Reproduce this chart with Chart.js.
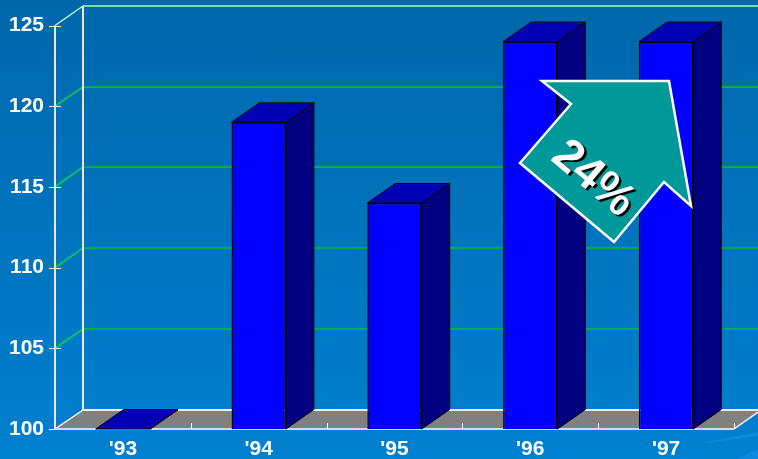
<!DOCTYPE html>
<html>
<head>
<meta charset="utf-8">
<title>Index</title>
<script src="https://cdn.jsdelivr.net/npm/chart.js@4/dist/chart.umd.min.js"></script>
<style>
    html, body { margin: 0; padding: 0; overflow: hidden; }
    body { width: 758px; height: 459px; background: linear-gradient(#0067ab, #0080d0); }
    #chart { display: block; }
</style>
</head>
<body>
<canvas id="chart" width="758" height="459"></canvas>
<script>
var years = ["'93", "'94", "'95", "'96", "'97"];
var values = [100, 119, 114, 124, 124];
var yTicks = [100, 105, 110, 115, 120, 125];
var growthLabel = '24%';

// how far the back wall sits from the front of the box
var depthX = 28;
var depthY = -19.5;

function line(ctx, x1, y1, x2, y2, color, width) {
    ctx.strokeStyle = color;
    ctx.lineWidth = width;
    ctx.beginPath();
    ctx.moveTo(x1, y1);
    ctx.lineTo(x2, y2);
    ctx.stroke();
}

function poly(ctx, pts, fill, stroke, width) {
    ctx.beginPath();
    ctx.moveTo(pts[0][0], pts[0][1]);
    for (var i = 1; i < pts.length; i++) {
        ctx.lineTo(pts[i][0], pts[i][1]);
    }
    ctx.closePath();
    ctx.fillStyle = fill;
    ctx.fill();
    if (width > 0) {
        ctx.strokeStyle = stroke;
        ctx.lineWidth = width;
        ctx.lineJoin = 'miter';
        ctx.stroke();
    }
}

// floor, back wall, gridlines and the side and top faces of the bars
var boxPlugin = {
    id: 'box',
    beforeDraw: function (chart) {
        // faint light streaks in the bottom corner of the slide
        var ctx = chart.ctx;
        poly(ctx, [[703, 443], [730, 437], [758, 432], [758, 436], [730, 440]], '#0c8ade', '', 0);
        poly(ctx, [[738, 459], [748, 453], [758, 449], [758, 459]], '#0c8ade', '', 0);
    },
    beforeDatasetsDraw: function (chart) {
        var ctx = chart.ctx;
        var a = chart.chartArea;
        var ys = chart.scales.y;
        var floorBack = Math.round(a.bottom + depthY);
        ctx.save();

        poly(ctx, [[a.left, a.bottom], [a.left + depthX, floorBack],
            [758, floorBack], [758, a.bottom - 17], [a.right, a.bottom]], '#808080', '', 0);

        yTicks.forEach(function (v) {
            var y = ys.getPixelForValue(v);
            var wallY = Math.round(y + depthY);
            var top = v === 125;
            if (v !== 100) {
                line(ctx, a.left + depthX, wallY, 758, wallY, top ? '#7fdcae' : '#00b04c', 2);
                line(ctx, a.left, y, a.left + depthX, wallY, top ? '#c8f5dc' : '#00e040', 1.5);
            }
            line(ctx, a.left - 6, Math.round(y) + 0.5, a.left + 6, Math.round(y) + 0.5, '#ffffff', 1);
        });

        line(ctx, a.left, a.top, a.left, a.bottom, '#e8e8e8', 2);
        line(ctx, a.left + depthX, a.top + depthY, a.left + depthX, floorBack, '#e8e8e8', 2);
        line(ctx, a.left + depthX, floorBack, 758, floorBack, '#f0f0f0', 2);
        line(ctx, a.left, a.bottom, a.left + depthX, floorBack, '#ffffff', 1.5);
        line(ctx, a.right, a.bottom, 758, a.bottom - 17, '#ffffff', 1.5);
        line(ctx, a.left, a.bottom, a.right, a.bottom, '#d8d8d8', 2);

        // x ticks sit on the category boundaries
        for (var i = 1; i <= years.length; i++) {
            var tx = Math.round(a.left + i * (a.right - a.left) / years.length) + 0.5;
            line(ctx, tx, a.bottom, tx, a.bottom - 6, '#ffffff', 1);
        }

        chart.getDatasetMeta(0).data.forEach(function (bar) {
            var half = bar.width / 2;
            var l = bar.x - half;
            var r = bar.x + half;
            poly(ctx, [[r, bar.y], [r + depthX, bar.y + depthY], [r + depthX, a.bottom + depthY], [r, a.bottom]],
                '#000080', '#000000', 1);
            poly(ctx, [[l, bar.y], [l + depthX, bar.y + depthY], [r + depthX, bar.y + depthY], [r, bar.y]],
                '#0000b4', '#000000', 1);
        });
        ctx.restore();
    },
    afterDatasetsDraw: function (chart) {
        var ctx = chart.ctx;
        ctx.save();
        // growth arrow over the last two bars
        poly(ctx, [[542, 81], [669, 81], [691, 206], [664, 182], [614, 242], [520, 163], [571, 104]],
            '#009999', '#ffffff', 2.5);
        ctx.translate(593, 179);
        ctx.rotate(40 * Math.PI / 180);
        ctx.font = 'bold 46px "Liberation Sans", Arial, sans-serif';
        ctx.textAlign = 'center';
        ctx.textBaseline = 'middle';
        ctx.fillStyle = '#000000';
        ctx.fillText(growthLabel, 3, 0);
        ctx.fillStyle = '#ffffff';
        ctx.fillText(growthLabel, 0, 0);
        ctx.restore();
    }
};

var ctx = document.getElementById('chart').getContext('2d');
var chart = new Chart(ctx, {
    type: 'bar',
    data: {
        labels: years,
        datasets: [{
            data: values,
            backgroundColor: '#0000ff',
            borderColor: '#000000',
            borderWidth: 1.5,
            barPercentage: 0.4,
            categoryPercentage: 1
        }]
    },
    options: {
        responsive: false,
        animation: false,
        layout: { padding: { top: 25.5, right: 24, left: 0, bottom: 0 } },
        plugins: { legend: { display: false }, tooltip: { enabled: false } },
        scales: {
            x: {
                afterFit: function (scale) { scale.height = 30; },
                grid: { display: false, drawTicks: false },
                border: { display: false },
                ticks: {
                    color: '#ffffff',
                    padding: 8,
                    font: { family: '"Liberation Sans", Arial, sans-serif', size: 21, weight: 'bold' }
                }
            },
            y: {
                min: 100,
                max: 125,
                afterFit: function (scale) { scale.width = 55; },
                grid: { display: false, drawTicks: false },
                border: { display: false },
                ticks: {
                    stepSize: 5,
                    color: '#ffffff',
                    padding: 11,
                    font: { family: '"Liberation Sans", Arial, sans-serif', size: 21, weight: 'bold' }
                }
            }
        }
    },
    plugins: [boxPlugin]
});
</script>
</body>
</html>
